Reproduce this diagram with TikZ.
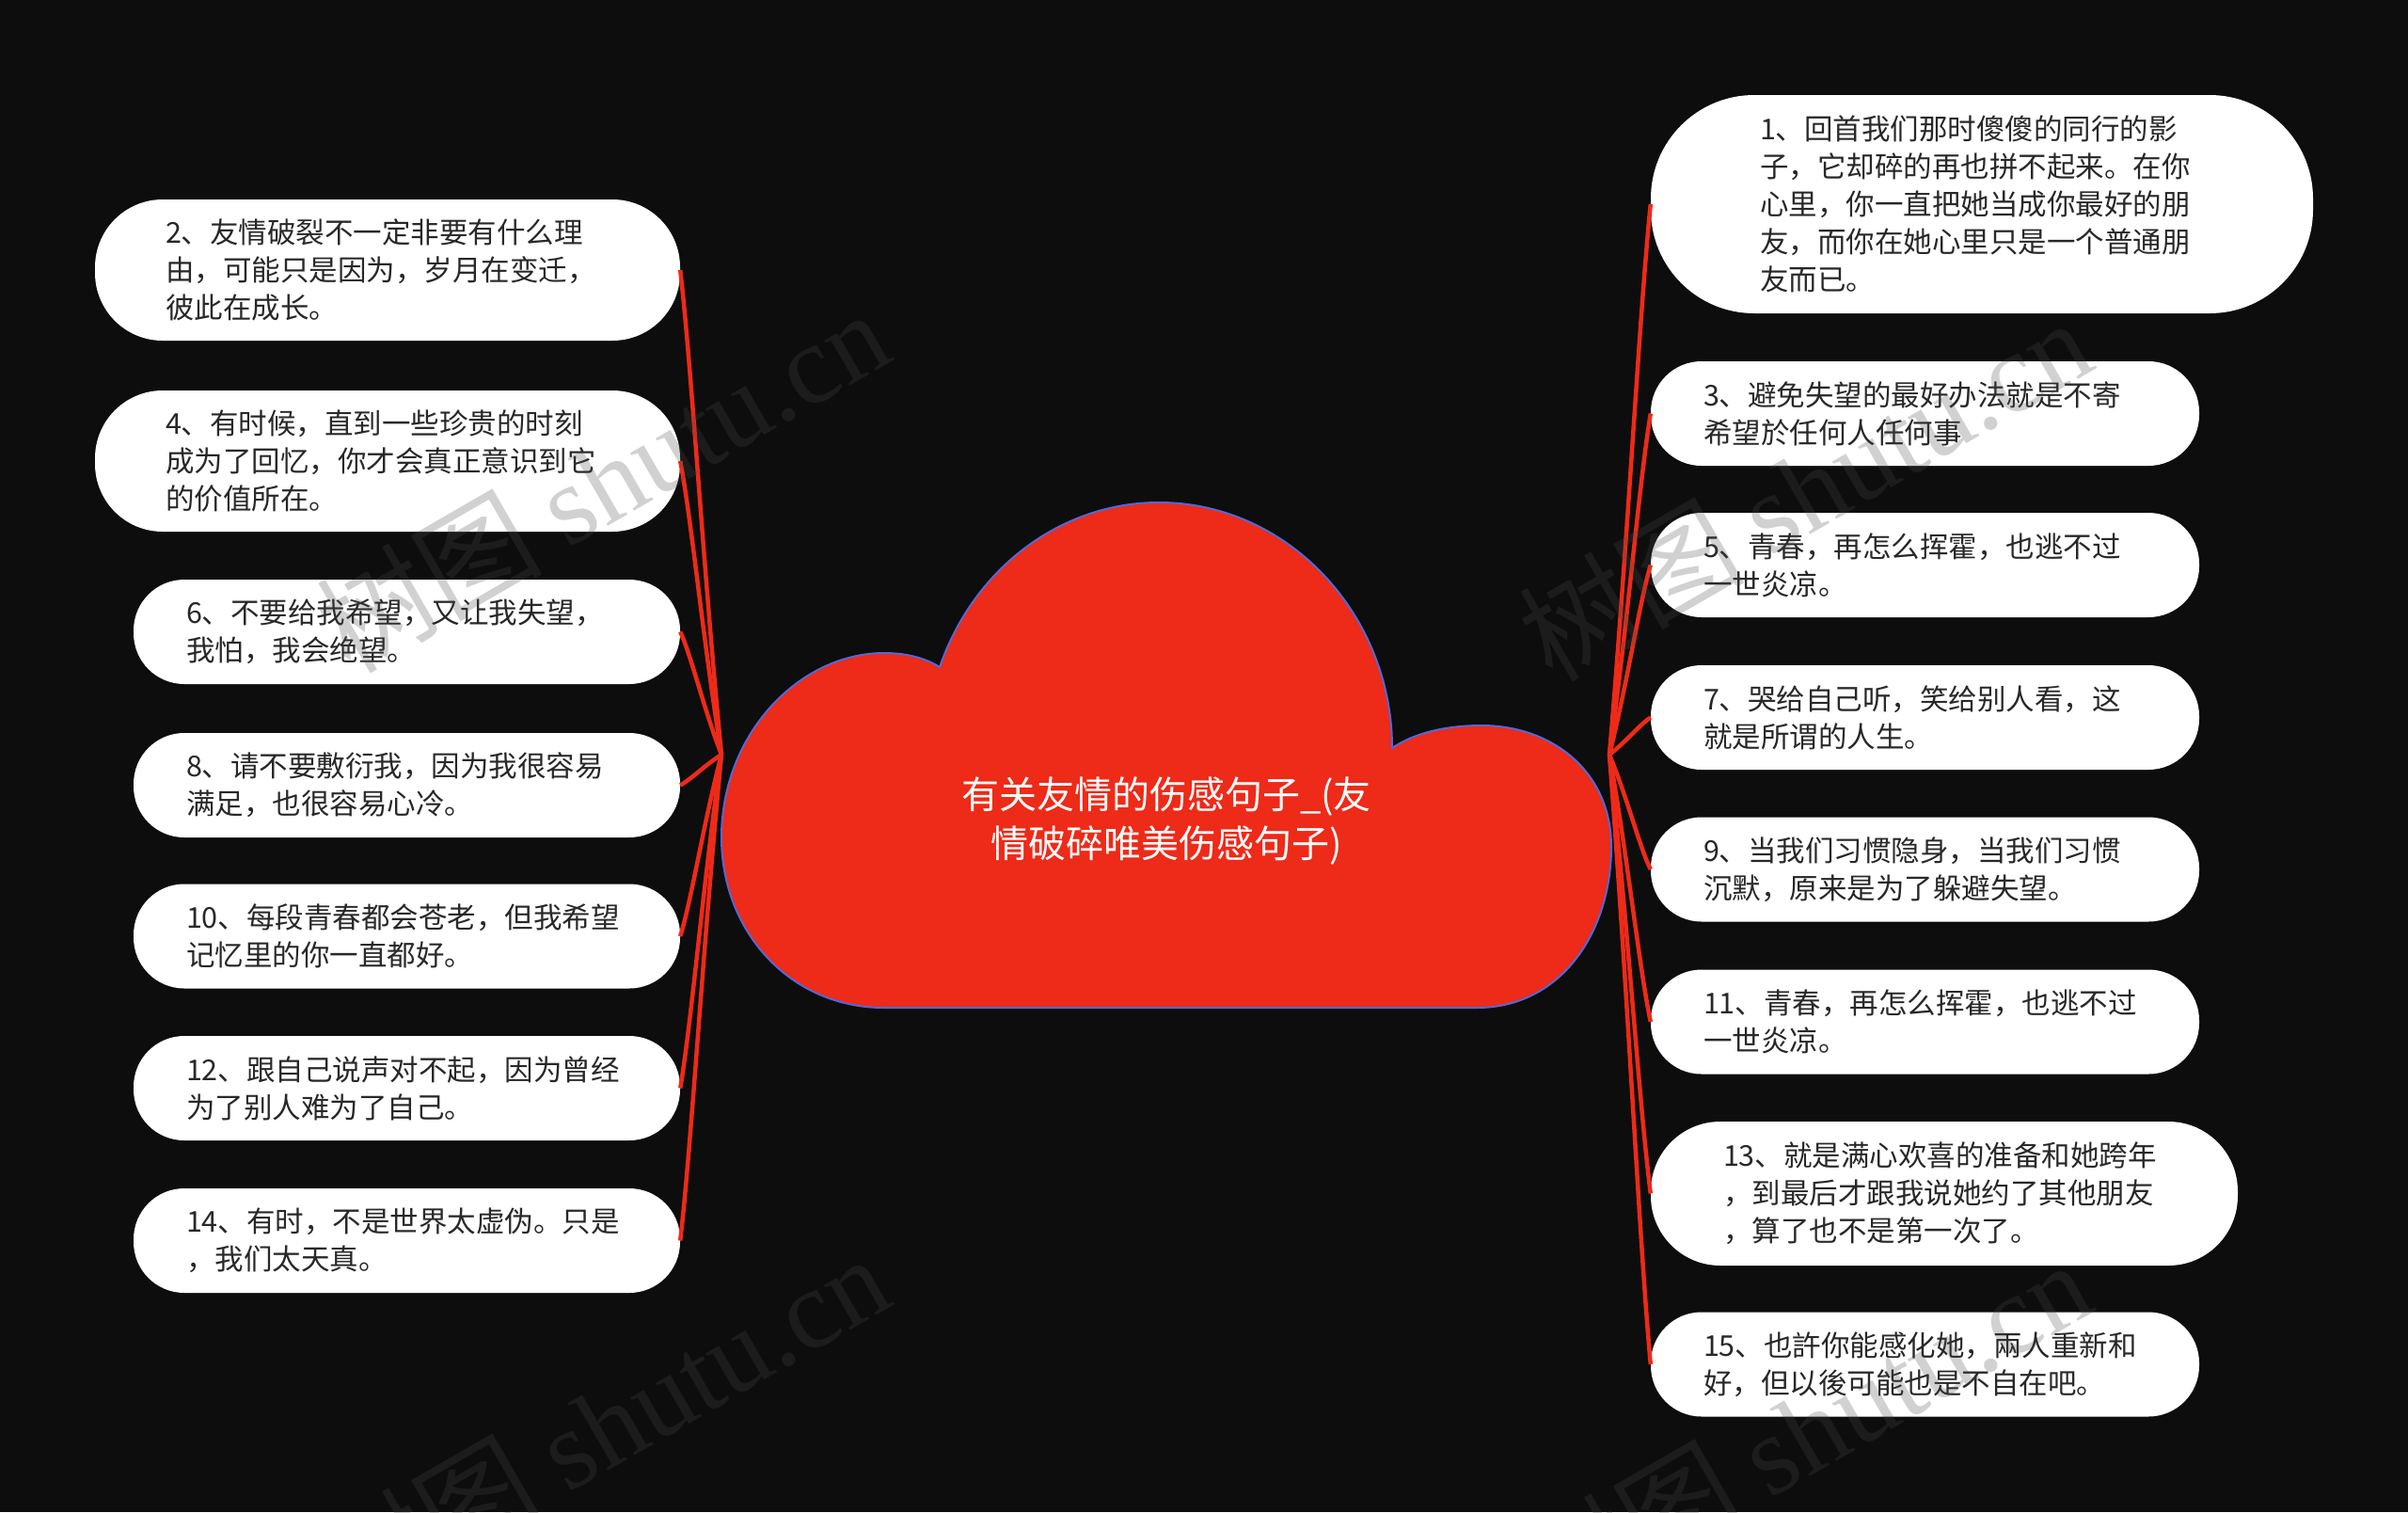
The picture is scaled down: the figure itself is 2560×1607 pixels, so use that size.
\documentclass[tikz,border=0pt]{standalone}
\usepackage{fontspec}
\setmainfont{Noto Sans CJK SC}
\newfontfamily\wmserif{Liberation Serif}
\usetikzlibrary{calc}
\definecolor{bg}{RGB}{13,13,13}
\definecolor{cred}{RGB}{238,42,24}
\definecolor{cblue}{RGB}{84,104,214}
\definecolor{tcol}{RGB}{40,40,40}
\definecolor{wmgray}{RGB}{73,73,73}
\newcommand\connL[1]{\draw[conn] (hubL) .. controls ($(hubL)!0.4!(hubL|-#1.east)+(-20,0)$) and ($(#1.east)!0.2!(#1.east|-hubL)+(12,0)$) .. (#1.east);}
\newcommand\connR[1]{\draw[conn] (hubR) .. controls ($(hubR)!0.4!(hubR|-#1.west)+(20,0)$) and ($(#1.west)!0.2!(#1.west|-hubR)+(-12,0)$) .. (#1.west);}
\begin{document}
\begin{tikzpicture}[x=1pt,y=-1pt,
  conn/.style={draw=cred,line width=4.5pt},
  box/.style={fill=white,text=tcol,font=\fontsize{30.5}{40}\selectfont,align=left,inner ysep=0pt},
  bLthree/.style={box,minimum height=150pt,inner xsep=75pt,text width=472pt,rounded corners=72pt},
  bLtwo/.style={box,minimum height=111pt,inner xsep=56pt,text width=469pt,rounded corners=54pt},
  bRfive/.style={box,minimum height=232pt,inner xsep=116pt,text width=472pt,rounded corners=110pt},
  bRtwo/.style={box,minimum height=111pt,inner xsep=56pt,text width=471pt,rounded corners=54pt},
  bRthree/.style={box,minimum height=153pt,inner xsep=77pt,text width=470pt,rounded corners=74pt},
  titletext/.style={text=white,font=\fontsize{40}{52}\selectfont,align=center},
  wm/.style={text=wmgray,text opacity=0.25,font=\fontsize{120}{120}\selectfont,rotate=30,inner sep=0pt}]
\useasboundingbox (0,0) rectangle (2560,1607);
\fill[bg] (0,0) rectangle (2560,1607);
% cloud
\filldraw[fill=cred,draw=cblue,line width=2pt]
  (999,709) .. controls (985,700) and (965,694) .. (940,694)
  .. controls (850,694) and (767,780) .. (767,890)
  .. controls (767,990) and (840,1071) .. (940,1071)
  -- (1570,1071)
  .. controls (1660,1071) and (1713,990) .. (1713,900)
  .. controls (1713,820) and (1650,771) .. (1575,771)
  .. controls (1540,771) and (1505,778) .. (1480,795)
  .. controls (1480,653) and (1369,534) .. (1232,534)
  .. controls (1128,534) and (1035,604) .. (999,709) -- cycle;
\node[titletext] (root) at (1240,873) {有关友情的伤感句子\_(友\\情破碎唯美伤感句子)};
\coordinate (hubL) at (767,802);
\coordinate (hubR) at (1711,802);
% left nodes
\node[bLthree] (n2) at (412,287) {2、友情破裂不一定非要有什么理\\由，可能只是因为，岁月在变迁，\\彼此在成长。};
\node[bLthree] (n4) at (412,490) {4、有时候，直到一些珍贵的时刻\\成为了回忆，你才会真正意识到它\\的价值所在。};
\node[bLtwo] (n6) at (432.5,671.5) {6、不要给我希望，又让我失望，\\我怕，我会绝望。};
\node[bLtwo] (n8) at (432.5,834.5) {8、请不要敷衍我，因为我很容易\\满足，也很容易心冷。};
\node[bLtwo] (n10) at (432.5,995) {10、每段青春都会苍老，但我希望\\记忆里的你一直都好。};
\node[bLtwo] (n12) at (432.5,1156.5) {12、跟自己说声对不起，因为曾经\\为了别人难为了自己。};
\node[bLtwo] (n14) at (432.5,1318.5) {14、有时，不是世界太虚伪。只是\\，我们太天真。};
% right nodes
\node[bRfive] (n1) at (2107,217) {1、回首我们那时傻傻的同行的影\\子，它却碎的再也拼不起来。在你\\心里，你一直把她当成你最好的朋\\友，而你在她心里只是一个普通朋\\友而已。};
\node[bRtwo] (n3) at (2046.5,439.5) {3、避免失望的最好办法就是不寄\\希望於任何人任何事};
\node[bRtwo] (n5) at (2046.5,600.5) {5、青春，再怎么挥霍，也逃不过\\一世炎凉。};
\node[bRtwo] (n7) at (2046.5,762.5) {7、哭给自己听，笑给别人看，这\\就是所谓的人生。};
\node[bRtwo] (n9) at (2046.5,924) {9、当我们习惯隐身，当我们习惯\\沉默，原来是为了躲避失望。};
\node[bRtwo] (n11) at (2046.5,1086) {11、青春，再怎么挥霍，也逃不过\\一世炎凉。};
\node[bRthree] (n13) at (2067,1268.5) {13、就是满心欢喜的准备和她跨年\\，到最后才跟我说她约了其他朋友\\，算了也不是第一次了。};
\node[bRtwo] (n15) at (2046.5,1450) {15、也許你能感化她，兩人重新和\\好，但以後可能也是不自在吧。};
% connectors
\connL{n2}\connL{n4}\connL{n6}\connL{n8}\connL{n10}\connL{n12}\connL{n14}
\connR{n1}\connR{n3}\connR{n5}\connR{n7}\connR{n9}\connR{n11}\connR{n13}\connR{n15}
% watermarks
\node[wm] (wm1) at (640,510) {树图 {\wmserif shutu.cn}};
\node[wm] (wm2) at (1918,519) {树图 {\wmserif shutu.cn}};
\node[wm] (wm3) at (640,1514) {树图 {\wmserif shutu.cn}};
\node[wm] (wm4) at (1918,1520) {树图 {\wmserif shutu.cn}};
\end{tikzpicture}
\end{document}
